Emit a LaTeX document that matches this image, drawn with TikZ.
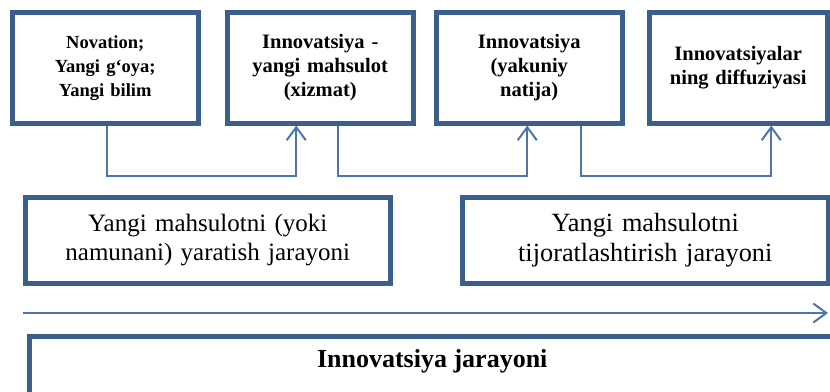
\documentclass[tikz,border=0pt]{standalone}
\usepackage{fontspec}
\setmainfont{Liberation Serif}
\usepackage{xcolor}
\usetikzlibrary{positioning,arrows.meta}

\definecolor{frameblue}{RGB}{58,95,140}
\definecolor{lineblue}{RGB}{74,118,172}

\tikzset{
    stage/.style={draw=frameblue, line width=4.5pt, fill=white,
        minimum width=186pt, minimum height=111pt, inner sep=2pt,
        text width=176pt, align=center,
        font=\fontsize{20.5}{24}\selectfont\bfseries},
    phase/.style={draw=frameblue, line width=4.5pt, fill=white,
        minimum width=365pt, minimum height=86pt, inner sep=2pt,
        text width=355pt, align=center,
        font=\fontsize{25}{29.5}\selectfont},
    link/.style={draw=lineblue, line width=2pt,
        -{Straight Barb[length=13pt,width=19pt,line width=2pt]}}
}

\begin{document}
\begin{tikzpicture}[x=1pt,y=-1pt]
    \useasboundingbox (0,0) rectangle (830,391);
    \clip (0,0) rectangle (830,391);

    % stages
    \node[stage, anchor=north west,
        font=\fontsize{18.5}{24}\selectfont\bfseries] (novation) at (10,10)
        {Novation;\\Yangi g‘oya;\\Yangi bilim};
    \node[stage, right=24.5pt of novation] (product)
        {Innovatsiya -\\yangi mahsulot\\(xizmat)};
    \node[stage, right=18.5pt of product] (result)
        {Innovatsiya\\(yakuniy\\natija)};
    \node[stage, minimum width=178pt, text width=170pt,
        right=22.5pt of result] (diffusion)
        {Innovatsiyalar\\ning diffuziyasi};

    % stage links
    \draw[link] ([xshift=2pt]novation.south) -- ++(0,50)
        -| ([xshift=-24pt]product.south);
    \draw[link] ([xshift=18pt]product.south) -- ++(0,50)
        -| ([xshift=-2pt]result.south);
    \draw[link] ([xshift=52pt]result.south) -- ++(0,50)
        -| ([xshift=33pt]diffusion.south);

    % phases
    \node[phase, anchor=north west] (create) at (23,195)
        {Yangi mahsulotni (yoki\\namunani) yaratish jarayoni};
    \node[phase, minimum width=366pt, right=67.5pt of create,
        font=\fontsize{26.3}{30}\selectfont] (market)
        {Yangi mahsulotni\\tijoratlashtirish jarayoni};

    % time axis
    \coordinate (tstart) at (23,313);
    \coordinate (tend) at (828,313);
    \draw[link] (tstart) -- (tend);

    % whole process
    \node[draw=frameblue, line width=4.5pt, fill=white,
        minimum width=806pt, minimum height=90pt,
        anchor=north west] (whole) at (27,334) {};
    \node[font=\fontsize{26}{30}\selectfont\bfseries, below=12pt]
        (wholetext) at (whole.north) {Innovatsiya jarayoni};

\end{tikzpicture}
\end{document}
